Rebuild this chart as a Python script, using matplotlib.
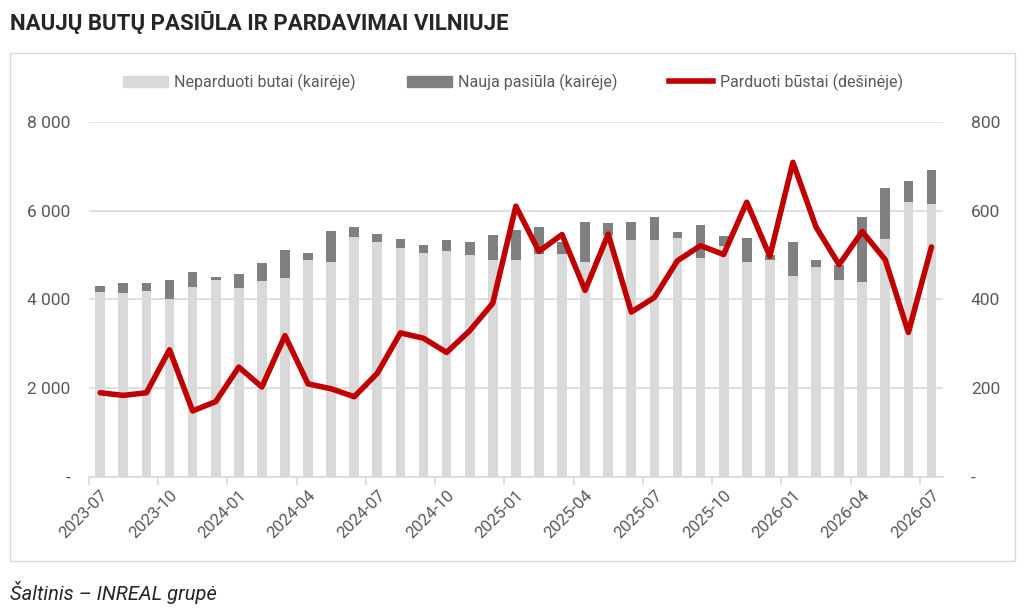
import matplotlib
matplotlib.use("Agg")
import matplotlib.pyplot as plt
from matplotlib.patches import Rectangle
from matplotlib.lines import Line2D
import numpy as np

plt.rcParams['font.family'] = ['Roboto', 'DejaVu Sans']

# data (monthly, 2023-07 .. 2026-07)
unsold = [4154, 4131, 4176, 4011, 4275, 4434, 4260, 4403, 4486, 4893,
          4840, 5405, 5284, 5156, 5036, 5088, 5006, 4893, 4893, 5028,
          5028, 4831, 5450, 5329, 5337, 5383, 4931, 5194, 4831, 4893,
          4531, 4727, 4425, 4388, 5367, 6196, 6143]
new_supply = [146, 235, 190, 423, 339, 74, 301, 407, 633, 143,
              701, 226, 189, 196, 196, 249, 293, 549, 670, 603,
              272, 920, 272, 411, 521, 127, 745, 241, 552, 107,
              761, 166, 355, 1470, 1153, 467, 768]
sold = [189, 183, 189, 286, 148, 169, 247, 202, 318, 209,
        198, 180, 233, 324, 312, 280, 329, 391, 610, 508,
        546, 420, 547, 371, 404, 487, 521, 501, 619, 497,
        709, 563, 478, 553, 489, 325, 518]
tick_labels = ["2023-07", "2023-10", "2024-01", "2024-04", "2024-07",
               "2024-10", "2025-01", "2025-04", "2025-07", "2025-10",
               "2026-01", "2026-04", "2026-07"]

LIGHT = "#d9d9d9"
DARK = "#808080"
RED = "#c00000"
TXT = "#595959"

fig = plt.figure(figsize=(10.24, 6.16), dpi=100)
fig.patches.append(Rectangle((10 / 1024, 1 - 561 / 616), 1005 / 1024, 508 / 616,
                             transform=fig.transFigure, fill=False,
                             edgecolor="#d9d9d9", linewidth=1))

ax = fig.add_axes([88.7 / 1024, 1 - 476.5 / 616, 854.3 / 1024, 354.5 / 616])
x = np.arange(len(unsold))
ax.bar(x, unsold, width=0.42, color=LIGHT, zorder=2)
ax.bar(x, new_supply, width=0.42, bottom=unsold, color=DARK, zorder=2)
ax.set_xlim(-0.5, len(unsold) - 0.5)
ax.set_ylim(0, 8000)
ax.set_yticks([0, 2000, 4000, 6000, 8000])
ax.set_yticklabels(["-", "2 000", "4 000", "6 000", "8 000"])
ax.yaxis.grid(True, color="#d9d9d9", linewidth=1.2, zorder=0)
ax.set_axisbelow(True)
for s in ["top", "left", "right"]:
    ax.spines[s].set_visible(False)
ax.spines["bottom"].set_color("#d9d9d9")
ax.spines["bottom"].set_linewidth(1.2)
ax.tick_params(axis="y", length=0, pad=13, labelsize=12.5, labelcolor=TXT)

# tick marks at category boundaries, labels at category centres
ax.set_xticks(np.arange(-0.5, len(unsold), 3))
ax.set_xticklabels([])
ax.tick_params(axis="x", which="major", length=6, color="#d9d9d9", width=1.2)
ax.set_xticks(np.arange(0, len(unsold), 3), minor=True)
ax.set_xticklabels(tick_labels, minor=True, rotation=45, ha="right",
                   rotation_mode="anchor", fontsize=12, color=TXT)
ax.tick_params(axis="x", which="minor", length=0, pad=8)

ax2 = ax.twinx()
ax2.plot(x, sold, color=RED, linewidth=4, solid_joinstyle="round",
         solid_capstyle="round", zorder=3)
ax2.set_ylim(0, 800)
ax2.set_yticks([0, 200, 400, 600, 800])
ax2.set_yticklabels(["-", "200", "400", "600", "800"])
ax2.tick_params(axis="y", length=0, pad=20, labelsize=12.5, labelcolor=TXT)
for s in ["top", "left", "right", "bottom"]:
    ax2.spines[s].set_visible(False)

handles = [Rectangle((0, 0), 1, 1, color=LIGHT),
           Rectangle((0, 0), 1, 1, color=DARK),
           Line2D([0], [0], color=RED, linewidth=4)]
names = ["Neparduoti butai (kairėje)", "Nauja pasiūla (kairėje)",
         "Parduoti būstai (dešinėje)"]
fig.legend(handles, names, loc="center", bbox_to_anchor=(513 / 1024, 1 - 82 / 616),
           ncol=3, frameon=False, fontsize=11.5, labelcolor=TXT,
           handlelength=2.8, handleheight=0.7, handletextpad=0.4,
           columnspacing=3.2)

fig.text(10 / 1024, 1 - 23 / 616, "NAUJŲ BUTŲ PASIŪLA IR PARDAVIMAI VILNIUJE",
         fontsize=16, fontweight="bold", color="#262626", va="center")
fig.text(10 / 1024, 1 - 593 / 616, "Šaltinis – INREAL grupė",
         fontsize=14.5, style="italic", color="#262626", va="center")

fig.savefig("out.png", dpi=100)
